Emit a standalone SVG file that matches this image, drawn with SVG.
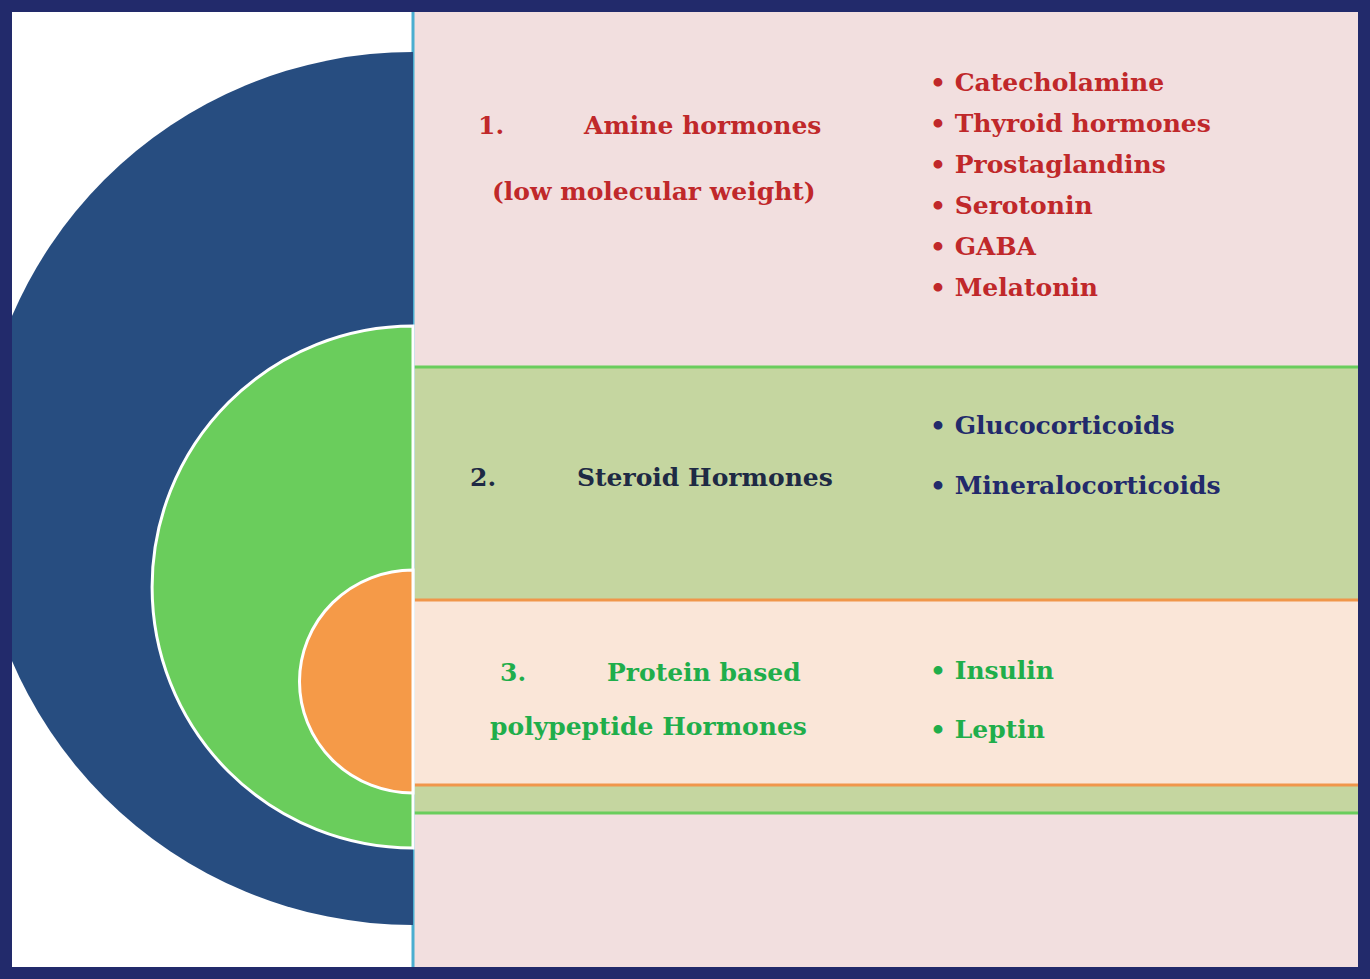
<svg xmlns="http://www.w3.org/2000/svg" width="1370" height="979" viewBox="0 0 1370 979">
<style>
text{font-family:"DejaVu Serif","Liberation Serif",serif;font-weight:bold;font-size:25px}
.r{fill:#c0282a}.b{fill:#222a6b}.g{fill:#1fae4b}.k{fill:#1e2a44}
</style>
<defs><clipPath id="c"><rect x="12" y="12" width="1346" height="955"/></clipPath></defs>
<rect x="0" y="0" width="1370" height="979" fill="#222a6b"/>
<rect x="12" y="12" width="1346" height="955" fill="#ffffff"/>
<g id="panels">
<rect x="413" y="12" width="945" height="955" fill="#f2dfdf"/>
<rect x="413" y="367" width="945" height="233" fill="#c5d6a0"/>
<rect x="413" y="600" width="945" height="185" fill="#fae6d8"/>
<rect x="413" y="785" width="945" height="28" fill="#c5d6a0"/>
<line x1="413" y1="367" x2="1358" y2="367" stroke="#6acd5c" stroke-width="3"/>
<line x1="413" y1="600" x2="1358" y2="600" stroke="#f0964a" stroke-width="3"/>
<line x1="413" y1="785" x2="1358" y2="785" stroke="#f0964a" stroke-width="3"/>
<line x1="413" y1="813" x2="1358" y2="813" stroke="#6acd5c" stroke-width="3"/>
<line x1="413" y1="12" x2="413" y2="967" stroke="#4aaed0" stroke-width="3"/>
</g>
<g id="semicircles" clip-path="url(#c)">
<path d="M413 52 A436 436 0 0 0 413 925 Z" fill="#274d80"/>
<path d="M413 326 A261 261 0 0 0 413 848 Z" fill="#6acd5c" stroke="#fff" stroke-width="3"/>
<path d="M413 570 A113 111 0 0 0 413 793 Z" fill="#f59a48" stroke="#fff" stroke-width="3"/>
</g>
<g id="amine">
<text x="478" y="134" class="r">1.</text>
<text x="584" y="134" class="r">Amine hormones</text>
<text x="492" y="200" class="r">(low molecular weight)</text>
<text x="930" y="91" class="r">• Catecholamine</text>
<text x="930" y="132" class="r">• Thyroid hormones</text>
<text x="930" y="173" class="r">• Prostaglandins</text>
<text x="930" y="214" class="r">• Serotonin</text>
<text x="930" y="255" class="r">• GABA</text>
<text x="930" y="296" class="r">• Melatonin</text>
</g>
<g id="steroid">
<text x="470" y="486" class="k">2.</text>
<text x="577" y="486" class="k">Steroid Hormones</text>
<text x="930" y="434" class="b">• Glucocorticoids</text>
<text x="930" y="494" class="b">• Mineralocorticoids</text>
</g>
<g id="protein">
<text x="500" y="681" class="g">3.</text>
<text x="607" y="681" class="g">Protein based</text>
<text x="490" y="735" class="g">polypeptide Hormones</text>
<text x="930" y="679" class="g">• Insulin</text>
<text x="930" y="738" class="g">• Leptin</text>
</g>
<g id="connectors"/>
</svg>
